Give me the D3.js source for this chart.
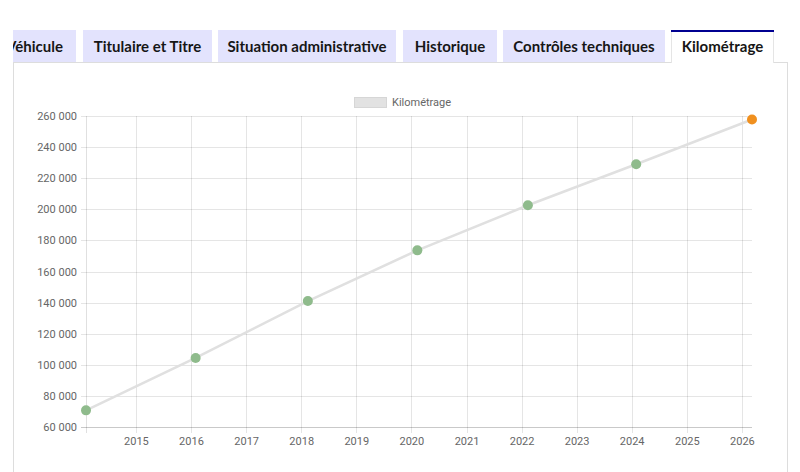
<!DOCTYPE html>
<html>
<head>
<meta charset="utf-8">
<script src="https://cdn.jsdelivr.net/npm/d3@7"></script>
<style>
  html, body { margin: 0; padding: 0; background: #fff; }
  svg { display: block; }
</style>
</head>
<body>
<svg id="chart" width="800" height="472"></svg>
<script>
// ---- data ----
const tabLabels = ["Véhicule", "Titulaire et Titre", "Situation administrative", "Historique", "Contrôles techniques", "Kilométrage"];
const activeTab = "Kilométrage";
const seriesName = "Kilométrage";
const readingDates = ["2014-02-04", "2016-02-01", "2018-02-14", "2020-02-10", "2022-02-12", "2024-01-31", "2026-03-09"];
const mileage = [70700, 104400, 141000, 173600, 202600, 229000, 257700];
const estimated = [false, false, false, false, false, false, true];
const xTickYears = [2015, 2016, 2017, 2018, 2019, 2020, 2021, 2022, 2023, 2024, 2025, 2026];
const yTickValues = [60000, 80000, 100000, 120000, 140000, 160000, 180000, 200000, 220000, 240000, 260000];

// ---- layout ----
const svg = d3.select("#chart");
const tabGeom = [[-20, 76], [83, 212], [218, 396], [403, 497], [503, 665], [671, 774]];
const panel = { left: 13, right: 787, top: 62 };

// panel borders
svg.append("line").attr("x1", panel.left + 0.5).attr("x2", panel.left + 0.5).attr("y1", panel.top).attr("y2", 472)
  .attr("stroke", "#dddddd");
svg.append("line").attr("x1", panel.right + 0.5).attr("x2", panel.right + 0.5).attr("y1", panel.top).attr("y2", 472)
  .attr("stroke", "#dddddd");

// tabs
const clip = svg.append("clipPath").attr("id", "tabclip");
clip.append("rect").attr("x", panel.left).attr("y", 0).attr("width", 800 - panel.left).attr("height", 80);
const tabs = svg.append("g").attr("clip-path", "url(#tabclip)");
tabs.append("line").attr("x1", panel.left).attr("x2", panel.right + 1).attr("y1", panel.top + 0.5).attr("y2", panel.top + 0.5)
  .attr("stroke", "#dddddd");
tabLabels.forEach((lab, i) => {
  const [x0, x1] = tabGeom[i];
  const active = lab === activeTab;
  const g = tabs.append("g");
  if (active) {
    g.append("rect").attr("x", x0).attr("y", 30).attr("width", x1 - x0).attr("height", 33).attr("fill", "#ffffff");
    g.append("line").attr("x1", x0 + 0.5).attr("x2", x0 + 0.5).attr("y1", 30).attr("y2", 63).attr("stroke", "#e5e5e5");
    g.append("line").attr("x1", x1 - 0.5).attr("x2", x1 - 0.5).attr("y1", 30).attr("y2", 63).attr("stroke", "#e5e5e5");
    g.append("rect").attr("x", x0).attr("y", 30).attr("width", x1 - x0).attr("height", 2).attr("fill", "#000091");
  } else {
    g.append("rect").attr("x", x0).attr("y", 30).attr("width", x1 - x0).attr("height", 32).attr("fill", "#e3e3fd");
  }
  g.append("text").attr("x", i === 0 ? 63 : (x0 + x1) / 2).attr("y", 52)
    .attr("text-anchor", i === 0 ? "end" : "middle")
    .attr("font-family", "Lato, sans-serif").attr("font-weight", 700).attr("font-size", 15)
    .attr("fill", "#161616").text(lab);
});

// ---- chart ----
const parse = d3.timeParse("%Y-%m-%d");
const dates = readingDates.map(parse);
const data = dates.map((d, i) => ({ date: d, value: mileage[i], est: estimated[i] }));

const x = d3.scaleTime().domain(d3.extent(dates)).range([86, 752]);
const y = d3.scaleLinear().domain([60000, 260000]).range([427, 116]);

const fr = d3.formatLocale({ decimal: ",", thousands: " ", grouping: [3], currency: ["", " €"] });
const fmt = fr.format(",d");
const yearDates = xTickYears.map(yr => new Date(yr, 0, 1));

const grid = svg.append("g").attr("stroke", "rgba(0,0,0,0.1)").attr("shape-rendering", "crispEdges");
yTickValues.forEach(v => {
  grid.append("line").attr("x1", 81).attr("x2", 752).attr("y1", Math.round(y(v)) + 0.5).attr("y2", Math.round(y(v)) + 0.5);
});
yearDates.forEach(d => {
  grid.append("line").attr("x1", Math.round(x(d)) + 0.5).attr("x2", Math.round(x(d)) + 0.5).attr("y1", 116).attr("y2", 433);
});
grid.append("line").attr("x1", 86.5).attr("x2", 86.5).attr("y1", 116).attr("y2", 433).attr("stroke", "rgba(0,0,0,0.12)");
grid.append("line").attr("x1", 81).attr("x2", 752).attr("y1", 427.5).attr("y2", 427.5).attr("stroke", "rgba(0,0,0,0.12)");

const yAxis = svg.append("g").attr("transform", "translate(86,0)")
  .call(d3.axisLeft(y).tickValues(yTickValues).tickFormat(fmt).tickSize(5).tickPadding(4));
const xAxis = svg.append("g").attr("transform", "translate(0,427)")
  .call(d3.axisBottom(x).tickValues(yearDates).tickFormat(d3.timeFormat("%Y")).tickSize(6).tickPadding(4));
[yAxis, xAxis].forEach(a => {
  a.select(".domain").remove();
  a.selectAll(".tick line").remove();
  a.selectAll("text").attr("font-family", "Roboto, sans-serif").attr("font-size", 11).attr("fill", "#666");
});

// legend
svg.append("rect").attr("x", 354.5).attr("y", 97.5).attr("width", 32).attr("height", 10)
  .attr("fill", "#e2e2e2").attr("stroke", "#d6d6d6");
svg.append("text").attr("x", 392).attr("y", 106).attr("font-family", "Roboto, sans-serif").attr("font-size", 11)
  .attr("fill", "#666").text(seriesName);

// line
svg.append("path").datum(data)
  .attr("d", d3.line().x(d => x(d.date)).y(d => y(d.value)))
  .attr("fill", "none").attr("stroke", "#e0e0e0").attr("stroke-width", 2.6);

// points
svg.append("g").selectAll("circle").data(data).join("circle")
  .attr("cx", d => x(d.date)).attr("cy", d => y(d.value)).attr("r", 5)
  .attr("fill", d => d.est ? "#f0901f" : "#8fbb8c");
</script>
</body>
</html>
